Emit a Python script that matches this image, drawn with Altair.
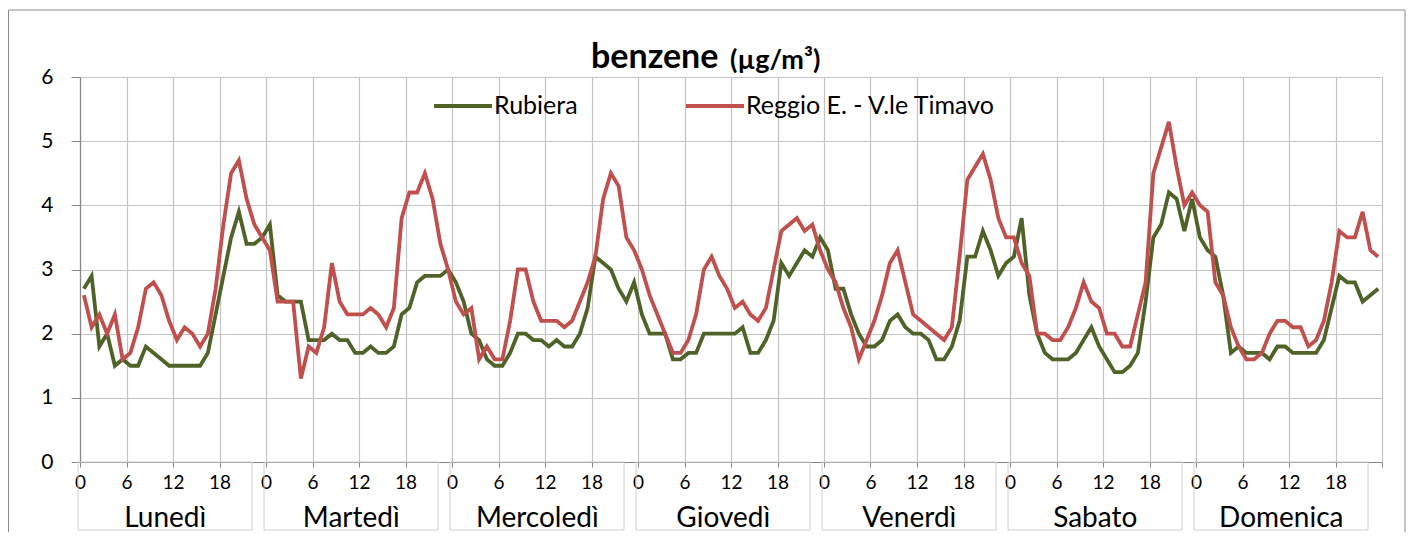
import altair as alt
import pandas as pd

days = ["Lunedì", "Martedì", "Mercoledì", "Giovedì", "Venerdì", "Sabato", "Domenica"]
series_names = ["Rubiera", "Reggio E. - V.le Timavo"]
series_colors = ["#4F6228", "#C0504D"]
hour_ticks = [0, 6, 12, 18]

rubiera = [
    2.7, 2.9, 1.8, 2.0, 1.5, 1.6, 1.5, 1.5, 1.8, 1.7, 1.6, 1.5, 1.5, 1.5, 1.5, 1.5, 1.7, 2.3, 2.9, 3.5, 3.9, 3.4, 3.4, 3.5,
    3.7, 2.6, 2.5, 2.5, 2.5, 1.9, 1.9, 1.9, 2.0, 1.9, 1.9, 1.7, 1.7, 1.8, 1.7, 1.7, 1.8, 2.3, 2.4, 2.8, 2.9, 2.9, 2.9, 3.0,
    2.8, 2.5, 2.0, 1.9, 1.6, 1.5, 1.5, 1.7, 2.0, 2.0, 1.9, 1.9, 1.8, 1.9, 1.8, 1.8, 2.0, 2.4, 3.2, 3.1, 3.0, 2.7, 2.5, 2.8,
    2.3, 2.0, 2.0, 2.0, 1.6, 1.6, 1.7, 1.7, 2.0, 2.0, 2.0, 2.0, 2.0, 2.1, 1.7, 1.7, 1.9, 2.2, 3.1, 2.9, 3.1, 3.3, 3.2, 3.5,
    3.3, 2.7, 2.7, 2.3, 2.0, 1.8, 1.8, 1.9, 2.2, 2.3, 2.1, 2.0, 2.0, 1.9, 1.6, 1.6, 1.8, 2.2, 3.2, 3.2, 3.6, 3.3, 2.9, 3.1,
    3.2, 3.8, 2.6, 2.0, 1.7, 1.6, 1.6, 1.6, 1.7, 1.9, 2.1, 1.8, 1.6, 1.4, 1.4, 1.5, 1.7, 2.5, 3.5, 3.7, 4.2, 4.1, 3.6, 4.1,
    3.5, 3.3, 3.2, 2.6, 1.7, 1.8, 1.7, 1.7, 1.7, 1.6, 1.8, 1.8, 1.7, 1.7, 1.7, 1.7, 1.9, 2.4, 2.9, 2.8, 2.8, 2.5, 2.6, 2.7,
]

reggio = [
    2.6, 2.1, 2.3, 2.0, 2.3, 1.6, 1.7, 2.1, 2.7, 2.8, 2.6, 2.2, 1.9, 2.1, 2.0, 1.8, 2.0, 2.7, 3.7, 4.5, 4.7, 4.1, 3.7, 3.5,
    3.3, 2.5, 2.5, 2.5, 1.3, 1.8, 1.7, 2.1, 3.1, 2.5, 2.3, 2.3, 2.3, 2.4, 2.3, 2.1, 2.4, 3.8, 4.2, 4.2, 4.5, 4.1, 3.4, 3.0,
    2.5, 2.3, 2.4, 1.6, 1.8, 1.6, 1.6, 2.2, 3.0, 3.0, 2.5, 2.2, 2.2, 2.2, 2.1, 2.2, 2.5, 2.8, 3.2, 4.1, 4.5, 4.3, 3.5, 3.3,
    3.0, 2.6, 2.3, 2.0, 1.7, 1.7, 1.9, 2.3, 3.0, 3.2, 2.9, 2.7, 2.4, 2.5, 2.3, 2.2, 2.4, 3.0, 3.6, 3.7, 3.8, 3.6, 3.7, 3.3,
    3.0, 2.8, 2.4, 2.1, 1.6, 1.9, 2.2, 2.6, 3.1, 3.3, 2.8, 2.3, 2.2, 2.1, 2.0, 1.9, 2.1, 3.2, 4.4, 4.6, 4.8, 4.4, 3.8, 3.5,
    3.5, 3.1, 2.9, 2.0, 2.0, 1.9, 1.9, 2.1, 2.4, 2.8, 2.5, 2.4, 2.0, 2.0, 1.8, 1.8, 2.3, 2.8, 4.5, 4.9, 5.3, 4.6, 4.0, 4.2,
    4.0, 3.9, 2.8, 2.6, 2.1, 1.8, 1.6, 1.6, 1.7, 2.0, 2.2, 2.2, 2.1, 2.1, 1.8, 1.9, 2.2, 2.8, 3.6, 3.5, 3.5, 3.9, 3.3, 3.2,
]

FONT = "Lato"
W, H = 1302, 385
n_hours = len(days) * 24

rows = []
for name, vals in zip(series_names, [rubiera, reggio]):
    for i, v in enumerate(vals):
        rows.append({"series": name, "hour": i + 0.5, "value": v})
df = pd.DataFrame(rows)
day_df = pd.DataFrame({"day": days, "idx": list(range(len(days)))})

color_scale = alt.Scale(domain=series_names, range=series_colors)
tick_vals = [d * 24 + h for d in range(len(days)) for h in hour_ticks] + [n_hours]

x_enc = alt.X(
    "hour:Q",
    scale=alt.Scale(domain=[0, n_hours], nice=False, zero=False),
    axis=alt.Axis(
        values=tick_vals,
        labelExpr=f"datum.value >= {n_hours} ? '' : '' + (datum.value % 24)",
        title=None,
        grid=True,
        gridColor="#C4C4C4",
        gridWidth=1.2,
        domainColor="#868686",
        domainWidth=1.2,
        tickColor="#868686",
        tickSize=5,
        labelFont=FONT,
        labelFontSize=19,
        labelColor="#000000",
        labelPadding=6,
        labelFlush=False,
        labelOverlap=False,
    ),
)
y_enc = alt.Y(
    "value:Q",
    scale=alt.Scale(domain=[0, 6], nice=False),
    axis=alt.Axis(
        values=[0, 1, 2, 3, 4, 5, 6],
        title=None,
        grid=True,
        gridColor="#C4C4C4",
        gridWidth=1.2,
        domainColor="#868686",
        domainWidth=1.2,
        tickColor="#868686",
        tickSize=9,
        labelFont=FONT,
        labelFontSize=21,
        labelColor="#000000",
        labelPadding=18,
        format="d",
    ),
)

base = alt.Chart(df)
green = base.transform_filter(alt.datum.series == series_names[0]).mark_line(
    strokeWidth=3.8, strokeJoin="miter"
).encode(
    x=x_enc, y=y_enc,
    color=alt.Color("series:N", scale=color_scale, legend=alt.Legend(title=None)),
)
red = base.transform_filter(alt.datum.series == series_names[1]).mark_line(
    strokeWidth=3.8, strokeJoin="miter"
).encode(
    x="hour:Q", y="value:Q",
    color=alt.Color("series:N", scale=color_scale, legend=alt.Legend(title=None)),
)

boxes = alt.Chart(day_df).transform_calculate(
    x0="datum.idx * 24 - 0.25", x1="datum.idx * 24 + 22.2"
).mark_rect(fill="transparent", stroke="#D0D0D0", strokeWidth=1).encode(
    x="x0:Q", x2="x1:Q", y=alt.value(H), y2=alt.value(H + 68)
)
day_text = alt.Chart(day_df).transform_calculate(
    xm="datum.idx * 24 + 11"
).mark_text(font=FONT, fontSize=28, baseline="middle", align="center", color="#000000").encode(
    x="xm:Q", y=alt.value(H + 57), text="day:N"
)

border = alt.Chart(pd.DataFrame({"k": [0]})).mark_rect(
    fill="transparent", stroke="#8C8C8C", strokeWidth=1
).encode(x=alt.value(-71.5), x2=alt.value(1325), y=alt.value(-67), y2=alt.value(700))

title_main = alt.Chart(pd.DataFrame({"t": ["benzene"]})).mark_text(
    font=FONT, fontSize=34, fontWeight="bold", align="left", baseline="alphabetic", color="#000000"
).encode(x=alt.value(511), y=alt.value(-9), text="t:N")
title_unit = alt.Chart(pd.DataFrame({"t": ["(µg/m³)"]})).mark_text(
    font=FONT, fontSize=27, fontWeight="bold", align="left", baseline="alphabetic", color="#000000"
).encode(x=alt.value(650), y=alt.value(-8), text="t:N")

chart = alt.layer(border, boxes, day_text, title_main, title_unit, green, red).properties(
    width=W, height=H,
    autosize=alt.AutoSizeParams(type="none"),
    padding={"left": 72, "top": 69, "right": 24, "bottom": 70},
    background="white",
).configure_view(strokeWidth=0).configure_legend(
    orient="none", legendX=352, legendY=-2, direction="horizontal",
    symbolType="stroke", symbolSize=3364, symbolStrokeWidth=4,
    labelFont=FONT, labelFontSize=25, labelColor="#000000", labelLimit=500,
    columnPadding=100, labelOffset=0, padding=0,
)

chart.save("out.html", embed_options={"renderer": "svg", "actions": False})
